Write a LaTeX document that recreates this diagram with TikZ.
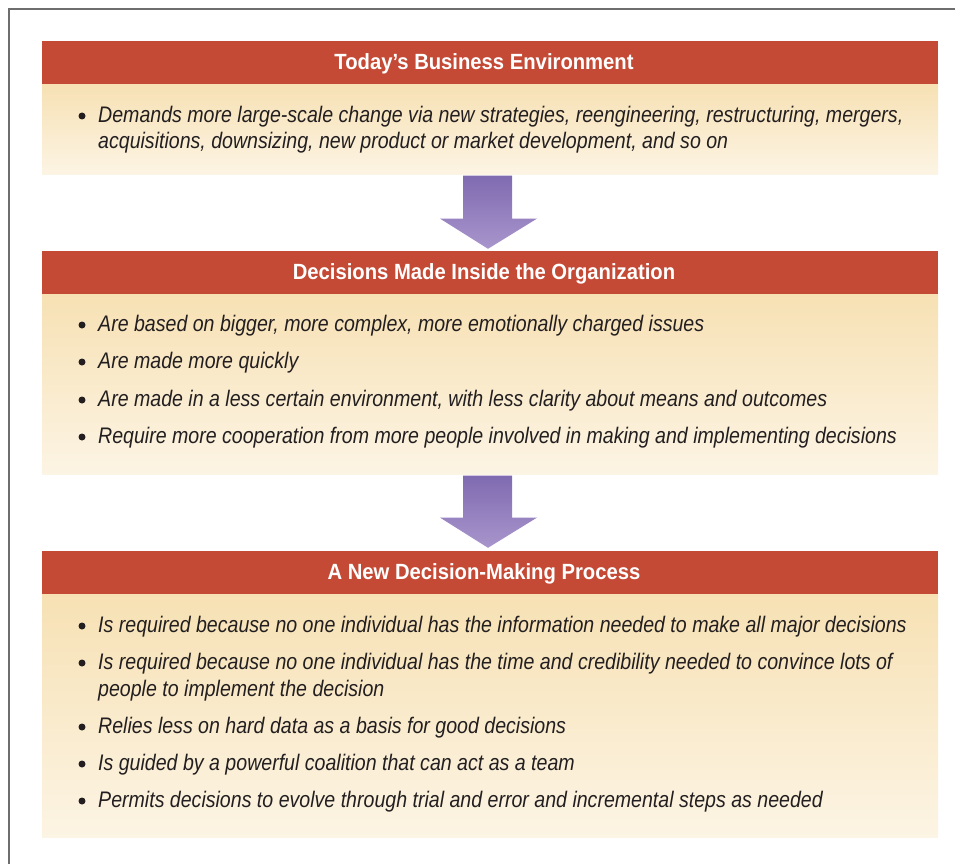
\documentclass[tikz,border=0pt]{standalone}
\usepackage{fontspec}
\setmainfont{Liberation Sans}[ItalicFeatures={FakeStretch=0.87}, BoldFeatures={FakeStretch=0.92}]
\usetikzlibrary{calc}
\definecolor{hdrred}{HTML}{C44A35}
\definecolor{bodytop}{HTML}{F7E1B4}
\definecolor{bodybot}{HTML}{FCF4E4}
\definecolor{arrtop}{HTML}{7F6BB0}
\definecolor{arrbot}{HTML}{A995CC}
\definecolor{txt}{HTML}{231F20}
\definecolor{framegray}{HTML}{6E6E6E}
\begin{document}
\begin{tikzpicture}[x=1pt,y=-1pt,
  hdrbox/.style={rectangle, fill=hdrred, inner sep=0pt,
    minimum width=896pt, minimum height=43pt},
  hdrtext/.style={inner sep=0pt, text=white,
    font=\fontsize{22}{26}\selectfont\bfseries},
  bodybox/.style={rectangle, inner sep=0pt, minimum width=896pt,
    top color=bodytop, bottom color=bodybot, draw=none},
  bultext/.style={anchor=base west, inner sep=0pt, text=txt,
    font=\fontsize{22.5}{27}\selectfont\itshape},
  bul/.style={circle, fill=txt, inner sep=0pt, minimum size=7pt},
  arr/.style={top color=arrtop, bottom color=arrbot, draw=none}
]
\useasboundingbox (0,0) rectangle (955,864);
\draw[framegray, line width=1.5pt] (9,864) -- (9,9) -- (955,9);

% Box 1
\node[hdrbox] (h1) at (490,62.5) {};
\node[hdrtext] (h1t) at ($(h1.center)+(-6,1.5)$) {Today’s Business Environment};
\node[bodybox, minimum height=90pt, anchor=north] (bd1) at (h1.south) {};
\node[bul] (u1a) at (82,116) {};
\node[bultext] (t1a) at (98,122) {Demands more large-scale change via new strategies, reengineering, restructuring, mergers,};
\node[bultext] (t1b) at (98,148) {acquisitions, downsizing, new product or market development, and so on};

% Box 2
\node[hdrbox] (h2) at (490,272.5) {};
\node[hdrtext] (h2t) at ($(h2.center)+(-6,1.5)$) {Decisions Made Inside the Organization};
\node[bodybox, minimum height=180pt, anchor=north] (bd2) at (h2.south) {};
\node[bul] (u2a) at (82,325) {};
\node[bultext] (t2a) at (98,331) {Are based on bigger, more complex, more emotionally charged issues};
\node[bul] (u2b) at (82,362) {};
\node[bultext] (t2b) at (98,368) {Are made more quickly};
\node[bul] (u2c) at (82,400) {};
\node[bultext] (t2c) at (98,406) {Are made in a less certain environment, with less clarity about means and outcomes};
\node[bul] (u2d) at (82,437) {};
\node[bultext] (t2d) at (98,443) {Require more cooperation from more people involved in making and implementing decisions};

% Box 3
\node[hdrbox] (h3) at (490,572.5) {};
\node[hdrtext] (h3t) at ($(h3.center)+(-6,1.5)$) {A New Decision-Making Process};
\node[bodybox, minimum height=243pt, anchor=north] (bd3) at (h3.south) {};
\node[bul] (u3a) at (82,626) {};
\node[bultext] (t3a) at (98,632) {Is required because no one individual has the information needed to make all major decisions};
\node[bul] (u3b) at (82,663) {};
\node[bultext] (t3b) at (98,669) {Is required because no one individual has the time and credibility needed to convince lots of};
\node[bultext] (t3c) at (98,696) {people to implement the decision};
\node[bul] (u3c) at (82,727) {};
\node[bultext] (t3d) at (98,733) {Relies less on hard data as a basis for good decisions};
\node[bul] (u3d) at (82,764) {};
\node[bultext] (t3e) at (98,770) {Is guided by a powerful coalition that can act as a team};
\node[bul] (u3e) at (82,801) {};
\node[bultext] (t3f) at (98,807) {Permits decisions to evolve through trial and error and incremental steps as needed};

% Arrows
\shade[arr] ($(bd1.south)+(-27,1)$) -- ($(bd1.south)+(22,1)$) -- ($(bd1.south)+(22,44)$)
  -- ($(bd1.south)+(47,44)$) -- ($(h2.north)+(-2,-2)$) -- ($(bd1.south)+(-50,44)$)
  -- ($(bd1.south)+(-27,44)$) -- cycle;
\shade[arr] ($(bd2.south)+(-27,1)$) -- ($(bd2.south)+(22,1)$) -- ($(bd2.south)+(22,43)$)
  -- ($(bd2.south)+(47,43)$) -- ($(h3.north)+(-2,-3)$) -- ($(bd2.south)+(-50,43)$)
  -- ($(bd2.south)+(-27,43)$) -- cycle;
\end{tikzpicture}
\end{document}
